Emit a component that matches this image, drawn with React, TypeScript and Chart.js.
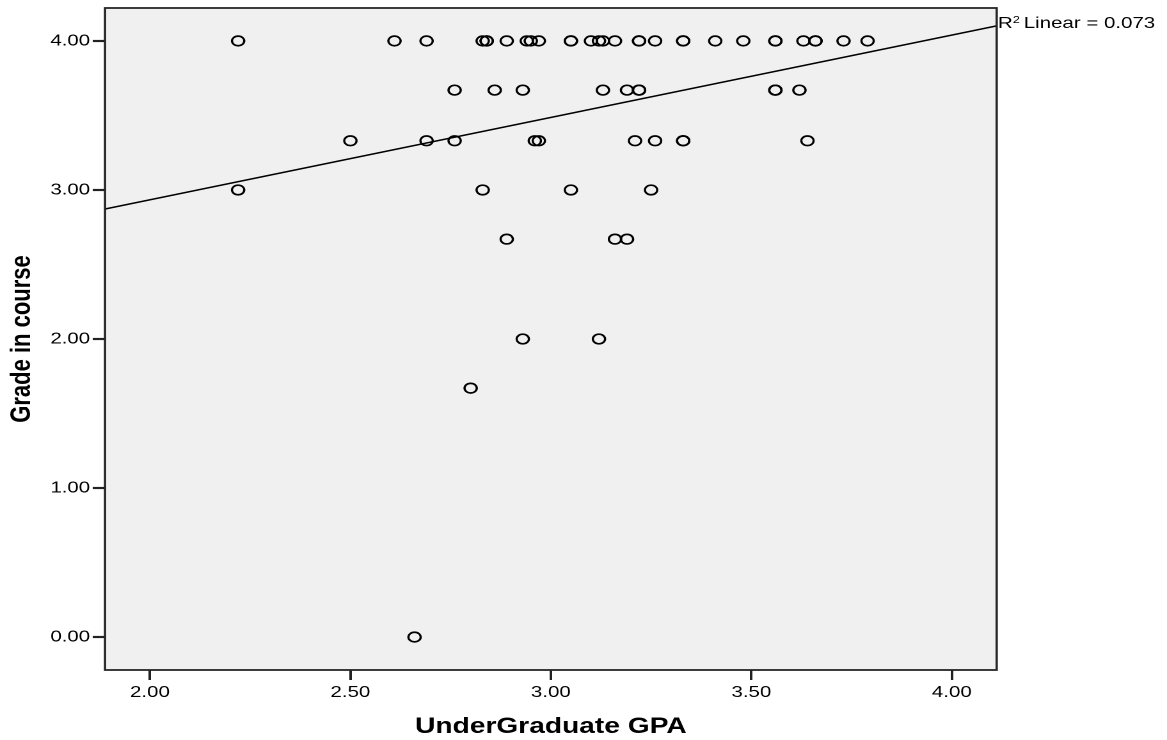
import { useEffect, useRef } from 'react';
import { Chart, registerables } from 'chart.js';

Chart.register(...registerables);

// ---- data ----
const gradeLevels = [4.0, 3.67, 3.33, 3.0, 2.67, 2.0, 1.67, 0.0];

const gpaAtGrade400 = [2.22, 2.61, 2.69, 2.83, 2.84, 2.84, 2.89, 2.94, 2.95, 2.97, 3.05, 3.05, 3.10, 3.12, 3.13, 3.16, 3.22, 3.22, 3.26, 3.33, 3.33, 3.41, 3.48, 3.56, 3.56, 3.63, 3.66, 3.66, 3.73, 3.79];
const gpaAtGrade367 = [2.76, 2.86, 2.93, 3.13, 3.19, 3.22, 3.22, 3.56, 3.56, 3.62];
const gpaAtGrade333 = [2.50, 2.69, 2.76, 2.96, 2.97, 3.21, 3.26, 3.33, 3.33, 3.64];
const gpaAtGrade300 = [2.22, 2.83, 3.05, 3.25];
const gpaAtGrade267 = [2.89, 3.16, 3.19];
const gpaAtGrade200 = [2.93, 3.12];
const gpaAtGrade167 = [2.80];
const gpaAtGrade000 = [2.66];

const gpaByGrade = [gpaAtGrade400, gpaAtGrade367, gpaAtGrade333, gpaAtGrade300, gpaAtGrade267, gpaAtGrade200, gpaAtGrade167, gpaAtGrade000];

const xTicks = [2.0, 2.5, 3.0, 3.5, 4.0];
const yTicks = [0, 1, 2, 3, 4];
const xRange = [1.888, 4.112];
const yRange = [-0.221, 4.221];

const fitIntercept = 1.829;
const fitSlope = 0.5526;
const fitR2Text = '0.073';

const xTitle = 'UnderGraduate GPA';
const yTitle = 'Grade in course';

// ---- layout (logical canvas is stretched horizontally like the reference) ----
const VIEW_W = 1167;
const VIEW_H = 740;
const LOGICAL_W = 912;
const FONT = "'Liberation Sans', Arial, sans-serif";

const points = gpaByGrade.flatMap((row, i) => row.map((g) => ({ x: g, y: gradeLevels[i] })));
const fitLine = xRange.map((x) => ({ x, y: fitIntercept + fitSlope * x }));

const framePlugin = {
  id: 'spssFrame',
  beforeDraw(chart: any) {
    const { ctx, chartArea: a } = chart;
    ctx.save();
    ctx.fillStyle = '#f0f0f0';
    ctx.fillRect(a.left, a.top, a.right - a.left, a.bottom - a.top);
    ctx.restore();
  },
  afterDraw(chart: any) {
    const { ctx, chartArea: a, scales } = chart;
    ctx.save();
    ctx.strokeStyle = '#262626';
    ctx.lineWidth = 1.8;
    ctx.strokeRect(a.left, a.top, a.right - a.left, a.bottom - a.top);

    // R² label at the right end of the fit line
    const end = fitLine[fitLine.length - 1];
    const px = scales.x.getPixelForValue(end.x) + 1;
    const py = scales.y.getPixelForValue(end.y) + 2;
    ctx.fillStyle = '#000';
    ctx.textBaseline = 'alphabetic';
    ctx.textAlign = 'left';
    ctx.font = `16px ${FONT}`;
    ctx.fillText('R', px, py);
    const rw = ctx.measureText('R').width;
    ctx.font = `10px ${FONT}`;
    ctx.fillText('2', px + rw, py - 5);
    const sw = ctx.measureText('2').width;
    ctx.font = `16px ${FONT}`;
    ctx.fillText(`Linear = ${fitR2Text}`, px + rw + sw + 3, py);
    ctx.restore();
  },
};

export default function App() {
  const ref = useRef<HTMLCanvasElement | null>(null);

  useEffect(() => {
    const canvas = ref.current;
    if (!canvas) return;
    const chart = new Chart(canvas, {
      type: 'scatter',
      data: {
        datasets: [
          {
            label: 'fit',
            data: fitLine,
            showLine: true,
            borderColor: '#000',
            borderWidth: 1.5,
            pointRadius: 0,
            pointHoverRadius: 0,
            fill: false,
          },
          {
            label: 'cases',
            data: points,
            pointStyle: 'circle',
            pointRadius: 4.8,
            pointHoverRadius: 4.8,
            pointBorderWidth: 1.7,
            pointBorderColor: '#000',
            pointBackgroundColor: 'rgba(0,0,0,0)',
            borderColor: '#000',
            backgroundColor: 'rgba(0,0,0,0)',
          },
        ],
      },
      options: {
        responsive: false,
        maintainAspectRatio: false,
        devicePixelRatio: 2,
        animation: false,
        events: [],
        layout: { padding: { top: 8, right: LOGICAL_W - 778.9, left: 0, bottom: 0 } },
        plugins: { legend: { display: false }, tooltip: { enabled: false } },
        scales: {
          x: {
            type: 'linear',
            min: xRange[0],
            max: xRange[1],
            afterBuildTicks: (s: any) => { s.ticks = xTicks.map((v) => ({ value: v })); },
            afterFit: (s: any) => { s.height = 70; s.paddingLeft = 0; s.paddingRight = 0; },
            border: { display: false },
            grid: { display: true, drawOnChartArea: false, drawTicks: true, tickLength: 10, tickWidth: 2, tickColor: '#222' },
            ticks: {
              padding: 3,
              color: '#000',
              font: { family: FONT, size: 16 },
              maxRotation: 0,
              callback: (v: any) => Number(v).toFixed(2),
            },
            title: {
              display: true,
              text: xTitle,
              color: '#000',
              font: { family: FONT, size: 22, weight: 'bold' },
              padding: { top: 0, bottom: 0 },
            },
          },
          y: {
            type: 'linear',
            min: yRange[0],
            max: yRange[1],
            afterBuildTicks: (s: any) => { s.ticks = yTicks.map((v) => ({ value: v })); },
            afterFit: (s: any) => { s.width = 82.06; s.paddingTop = 0; s.paddingBottom = 0; },
            border: { display: false },
            grid: { display: true, drawOnChartArea: false, drawTicks: true, tickLength: 9.6, tickWidth: 2.2, tickColor: '#222' },
            ticks: {
              padding: 2,
              color: '#000',
              font: { family: FONT, size: 16 },
              callback: (v: any) => Number(v).toFixed(2),
            },
            title: {
              display: true,
              text: yTitle,
              color: '#000',
              font: { family: FONT, size: 22, weight: 'bold' },
              padding: { top: 4, bottom: 0 },
            },
          },
        },
      },
      plugins: [framePlugin],
    } as any);
    return () => chart.destroy();
  }, []);

  return (
    <div style={{ position: 'fixed', left: 0, top: 0, width: VIEW_W, height: VIEW_H, overflow: 'hidden', background: '#fff' }}>
      <canvas
        ref={ref}
        width={LOGICAL_W}
        height={VIEW_H}
        style={{ width: `${VIEW_W}px`, height: `${VIEW_H}px`, display: 'block' }}
      />
    </div>
  );
}
